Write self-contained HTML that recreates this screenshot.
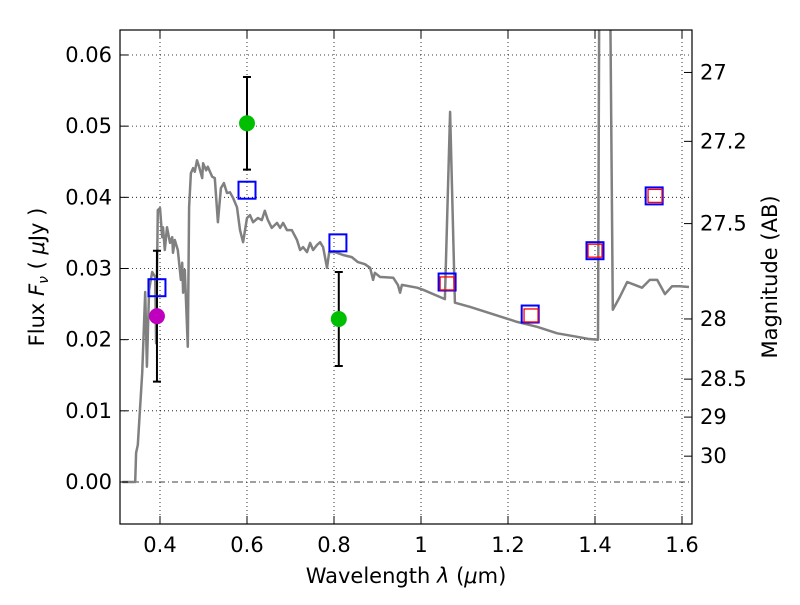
<!DOCTYPE html>
<html><head><meta charset="utf-8"><style>
body{margin:0;background:#fff;}
svg text{font-family:"DejaVu Sans","Liberation Sans",sans-serif;font-size:21px;fill:#000;}
</style></head><body>
<svg id="chart" width="800" height="600" xmlns="http://www.w3.org/2000/svg">
<defs><clipPath id="clip"><rect x="120" y="30" width="572" height="494"/></clipPath></defs>
<g id="grid"></g>
<g id="plot" clip-path="url(#clip)"></g>
<rect x="120" y="30" width="572" height="494" fill="none" stroke="#000" stroke-width="1.2"/>
<g id="axes"></g>
<text x="406" y="583" text-anchor="middle">Wavelength  <tspan font-style="italic">λ</tspan> (<tspan font-style="italic">μ</tspan>m)</text>
<text transform="translate(44,277) rotate(-90)" text-anchor="middle">Flux  <tspan font-style="italic">F</tspan><tspan font-style="italic" font-size="14" dy="4">ν</tspan><tspan dy="-4">  ( </tspan><tspan font-style="italic">μ</tspan>Jy )</text>
<text transform="translate(777,277) rotate(-90)" text-anchor="middle">Magnitude (AB)</text>
</svg>
<script>
const sedWave=[0.313,0.343,0.345,0.349,0.359,0.366,0.370,0.375,0.382,0.389,0.391,0.395,0.400,0.405,0.407,0.411,0.416,0.423,0.428,0.430,0.434,0.441,0.448,0.451,0.453,0.457,0.464,0.467,0.471,0.476,0.480,0.485,0.490,0.497,0.499,0.506,0.510,0.520,0.526,0.533,0.540,0.547,0.554,0.561,0.568,0.577,0.584,0.591,0.600,0.607,0.614,0.625,0.634,0.641,0.648,0.657,0.669,0.676,0.683,0.692,0.703,0.715,0.722,0.729,0.738,0.745,0.752,0.761,0.768,0.775,0.784,0.789,0.802,0.821,0.841,0.855,0.871,0.883,0.890,0.894,0.906,0.936,0.947,0.952,0.956,0.991,1.005,1.055,1.067,1.078,1.113,1.159,1.221,1.267,1.313,1.359,1.384,1.407,1.411,1.432,1.441,1.457,1.474,1.508,1.526,1.543,1.561,1.577,1.595,1.616];
const sedFlux=[0,0,0.0041,0.0052,0.0153,0.0267,0.0162,0.0270,0.0295,0.0288,0.0195,0.0382,0.0385,0.0344,0.0358,0.0326,0.0358,0.0336,0.0344,0.0322,0.0340,0.0326,0.0284,0.0308,0.0266,0.0298,0.0190,0.0386,0.0434,0.0441,0.0436,0.0452,0.0443,0.0427,0.0448,0.0438,0.0443,0.0429,0.0427,0.0365,0.0413,0.0420,0.0406,0.0407,0.0399,0.0386,0.0354,0.0337,0.0371,0.0375,0.0365,0.0371,0.0368,0.0381,0.0368,0.0357,0.0364,0.0357,0.0364,0.0354,0.0354,0.0340,0.0326,0.0330,0.0323,0.0336,0.0326,0.0333,0.0337,0.0330,0.0301,0.0323,0.0323,0.0319,0.0316,0.0309,0.0306,0.0301,0.0284,0.0294,0.0288,0.0287,0.0277,0.0266,0.0277,0.0273,0.0270,0.0257,0.0520,0.0252,0.0246,0.0237,0.0225,0.0218,0.0209,0.0204,0.0201,0.0200,0.09,0.09,0.0242,0.0260,0.0281,0.0273,0.0284,0.0284,0.0264,0.0275,0.0275,0.0274];
const modelWave=[0.393,0.600,0.809,1.060,1.251,1.400,1.536];
const modelFlux=[0.0273,0.0410,0.0336,0.0281,0.0236,0.0325,0.0402];
const obsWave=[1.060,1.253,1.400,1.538];
const obsFlux=[0.0279,0.0234,0.0325,0.0402];
const detWave=[0.600,0.811];
const detFlux=[0.0504,0.0229];
const detErr=[0.0065,0.0066];
const limWave=[0.393];
const limFlux=[0.0233];
const limErr=[0.0092];
const xTicks=[0.4,0.6,0.8,1.0,1.2,1.4,1.6];
const xTickLabels=["0.4","0.6","0.8","1","1.2","1.4","1.6"];
const yTicks=[0,0.01,0.02,0.03,0.04,0.05,0.06];
const yTickLabels=["0.00","0.01","0.02","0.03","0.04","0.05","0.06"];
const magTicks=[27,27.2,27.5,28,28.5,29,30];
const magTickLabels=["27","27.2","27.5","28","28.5","29","30"];

const NS="http://www.w3.org/2000/svg";
const X=v=>160+(v-0.4)*435;
const Y=v=>482-v*7117;
function mk(parent,tag,attrs){const e=document.createElementNS(NS,tag);for(const k in attrs)e.setAttribute(k,attrs[k]);document.getElementById(parent).appendChild(e);return e;}

xTicks.forEach((t,i)=>{
  let g=mk('grid','line',{x1:X(t),x2:X(t),y1:30,y2:524,stroke:'#000','stroke-width':0.8,'stroke-dasharray':'1,3'});
  
  
  let a=mk('axes','line',{x1:X(t),x2:X(t),y1:524,y2:516,stroke:'#000'});
  
  
  let b=mk('axes','line',{x1:X(t),x2:X(t),y1:30,y2:38,stroke:'#000'});
  
  
  let l=mk('axes','text',{x:X(t),y:552,'text-anchor':'middle'});l.textContent=xTickLabels[i];
  
  
});
yTicks.forEach((t,i)=>{
  let g=mk('grid','line',{x1:120,x2:692,y1:Y(t),y2:Y(t),stroke:'#000','stroke-width':0.8,'stroke-dasharray':t===0?'6,3,1,3':'1,3'});
  
  
  let a=mk('axes','line',{x1:120,x2:128,y1:Y(t),y2:Y(t),stroke:'#000'});
  
  
  let l=mk('axes','text',{x:112,y:Y(t)+7,'text-anchor':'end'});l.textContent=yTickLabels[i];
  
  
});
magTicks.forEach((m,i)=>{
  const y=Y(Math.pow(10,(23.9-m)/2.5));
  let a=mk('axes','line',{x1:684,x2:692,y1:y,y2:y,stroke:'#000'});
  
  
  let l=mk('axes','text',{x:700,y:y+7});l.textContent=magTickLabels[i];
  
  
});

let d=sedWave.map((w,i)=>(i?'L':'M')+X(w).toFixed(1)+','+Y(sedFlux[i]).toFixed(1)).join('');
let sed=mk('plot','path',{d:d,fill:'none',stroke:'#808080','stroke-width':2.5,'stroke-linejoin':'round'});



function errbar(w,f,e,name){
  const x=X(w);
  let l=mk('plot','path',{d:`M${x},${Y(f+e)}V${Y(f-e)}M${x-4},${Y(f+e)}h8M${x-4},${Y(f-e)}h8`,stroke:'#000','stroke-width':2,fill:'none'});
  
  
}
limWave.forEach((w,i)=>errbar(w,limFlux[i],limErr[i],'upper-limit-errorbar'));
detWave.forEach((w,i)=>errbar(w,detFlux[i],detErr[i],'detection-errorbar'));
modelWave.forEach((w,i)=>{
  let r=mk('plot','rect',{x:X(w)-8.5,y:Y(modelFlux[i])-8.5,width:17,height:17,fill:'none',stroke:'#0000ff','stroke-width':2});
  
  
});
obsWave.forEach((w,i)=>{
  let r=mk('plot','rect',{x:X(w)-7,y:Y(obsFlux[i])-6.5,width:14,height:13,fill:'none',stroke:'#ff0000','stroke-width':1.3});
  
  
});
limWave.forEach((w,i)=>{
  let c=mk('plot','circle',{cx:X(w),cy:Y(limFlux[i]),r:8,fill:'#bf00bf'});
  
  
});
detWave.forEach((w,i)=>{
  let c=mk('plot','circle',{cx:X(w),cy:Y(detFlux[i]),r:8,fill:'#00bf00'});
  
  
});
</script>
</body></html>
